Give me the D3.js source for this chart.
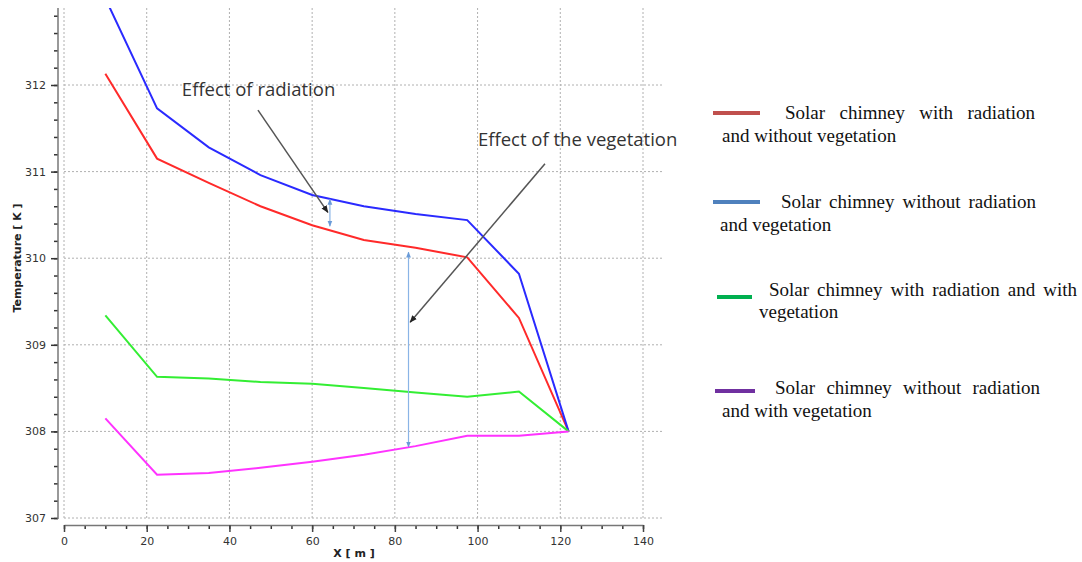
<!DOCTYPE html>
<html>
<head>
<meta charset="utf-8">
<script src="https://cdn.jsdelivr.net/npm/d3@7"></script>
<style>
body { margin: 0; background: #fff; }
svg { display: block; }
.tick text { font-family: "DejaVu Sans", sans-serif; font-size: 11px; fill: #333; }
</style>
</head>
<body>
<svg width="1082" height="562"></svg>
<script>
var xPos = [10, 22.5, 35, 47.5, 60, 72.5, 85, 97.5, 110, 122];
var redVals = [312.13, 311.15, 310.87, 310.6, 310.38, 310.21, 310.12, 310.01, 309.31, 308.0];
var blueVals = [313.0, 311.73, 311.28, 310.96, 310.73, 310.6, 310.51, 310.44, 309.82, 308.0];
var greenVals = [309.34, 308.63, 308.61, 308.57, 308.55, 308.5, 308.45, 308.4, 308.46, 308.0];
var pinkVals = [308.15, 307.5, 307.52, 307.58, 307.65, 307.73, 307.83, 307.95, 307.95, 308.0];
var xTicks = [0, 20, 40, 60, 80, 100, 120, 140];
var yTicks = [307, 308, 309, 310, 311, 312];
var legendItems = [
	{ color: "#c0504d", first: "Solar chimney with radiation", second: "and without vegetation" },
	{ color: "#4f81bd", first: "Solar chimney without radiation", second: "and vegetation" },
	{ color: "#00b050", first: "Solar chimney with radiation and with", second: "vegetation" },
	{ color: "#7030a0", first: "Solar chimney without radiation", second: "and with vegetation" }
];

var svg = d3.select("svg");
var x = d3.scaleLinear().domain([0, 140]).range([64, 643]);
var y = d3.scaleLinear().domain([307, 312]).range([518, 85]);

var defs = svg.append("defs");
defs.append("clipPath").attr("id", "plot")
	.append("rect").attr("x", 58).attr("y", 8).attr("width", 620).attr("height", 515);
function marker(id, color, size) {
	defs.append("marker").attr("id", id)
		.attr("viewBox", "0 0 10 10").attr("refX", 9).attr("refY", 5)
		.attr("markerWidth", size).attr("markerHeight", size)
		.attr("orient", "auto-start-reverse")
		.append("path").attr("d", "M0,1 L10,5 L0,9 z").attr("fill", color);
}
marker("arrGray", "#222", 5);
marker("arrBlue", "#6a9bd8", 5);

// grid
var grid = svg.append("g").attr("stroke", "#b0b0b0").attr("stroke-dasharray", "2,2").attr("stroke-width", 1);
grid.selectAll(".h").data(yTicks).enter().append("line")
	.attr("x1", 64).attr("x2", 663)
	.attr("y1", function(d) { return y(d); }).attr("y2", function(d) { return y(d); });
grid.selectAll(".v").data(xTicks).enter().append("line")
	.attr("y1", 8).attr("y2", 518)
	.attr("x1", function(d) { return x(d); }).attr("x2", function(d) { return x(d); });

// axes
var xMinor = d3.range(0, 141, 5);
svg.append("g").attr("transform", "translate(0,525)")
	.call(d3.axisBottom(x).tickValues(xMinor).tickSize(4).tickFormat(""))
	.call(function(g) { g.select(".domain").remove(); g.selectAll("line").attr("stroke", "#333").attr("stroke-width", 1.5); });
svg.append("g").attr("transform", "translate(0,525)")
	.call(d3.axisBottom(x).tickValues(xTicks).tickSize(7).tickPadding(5).tickSizeOuter(0))
	.call(function(g) { g.select(".domain").attr("stroke", "#777").attr("stroke-width", 1.5); g.selectAll("line").attr("stroke", "#444").attr("stroke-width", 1.5); });

var yMinor = d3.range(307, 312.81, 0.2);
svg.append("g").attr("transform", "translate(58,0)")
	.call(d3.axisLeft(y).tickValues(yMinor).tickSize(4).tickFormat(""))
	.call(function(g) { g.select(".domain").remove(); g.selectAll("line").attr("stroke", "#333").attr("stroke-width", 1.5); });
svg.append("g").attr("transform", "translate(58,0)")
	.call(d3.axisLeft(y).tickValues(yTicks).tickSize(7).tickPadding(5).tickSizeOuter(0).tickFormat(d3.format("d")))
	.call(function(g) { g.select(".domain").remove(); g.selectAll("line").attr("stroke", "#333").attr("stroke-width", 1.5); });
svg.append("line").attr("x1", 58).attr("x2", 58).attr("y1", 8).attr("y2", 519)
	.attr("stroke", "#777").attr("stroke-width", 1.5);

svg.append("text").attr("transform", "translate(21,258) rotate(-90)")
	.attr("text-anchor", "middle").attr("font-family", "DejaVu Sans, sans-serif")
	.attr("font-size", 11).attr("font-weight", "bold").attr("fill", "#222")
	.text("Temperature [ K ]");
svg.append("text").attr("x", 354).attr("y", 557)
	.attr("text-anchor", "middle").attr("font-family", "DejaVu Sans, sans-serif")
	.attr("font-size", 11).attr("font-weight", "bold").attr("fill", "#222")
	.text("X [ m ]");

// series
var series = [
	{ vals: redVals, color: "#ff2a2a" },
	{ vals: blueVals, color: "#2a2aff" },
	{ vals: greenVals, color: "#33ee33" },
	{ vals: pinkVals, color: "#ff33ff" }
];
var line = d3.line()
	.x(function(d, i) { return x(xPos[i]); })
	.y(function(d) { return y(d); });
svg.append("g").attr("clip-path", "url(#plot)")
	.selectAll("path").data(series).enter().append("path")
	.attr("d", function(d) { return line(d.vals); })
	.attr("fill", "none").attr("stroke", function(d) { return d.color; })
	.attr("stroke-width", 2);

// annotations
var ann = svg.append("g");
ann.append("line")
	.attr("x1", x(46.9)).attr("y1", y(311.71)).attr("x2", x(63.8)).attr("y2", y(310.53))
	.attr("stroke", "#555").attr("stroke-width", 1.5).attr("marker-end", "url(#arrGray)");
ann.append("line")
	.attr("x1", x(64.3)).attr("y1", y(310.68)).attr("x2", x(64.3)).attr("y2", y(310.37))
	.attr("stroke", "#8ab4e6").attr("stroke-width", 1.2)
	.attr("marker-start", "url(#arrBlue)").attr("marker-end", "url(#arrBlue)");
ann.append("line")
	.attr("x1", x(116.3)).attr("y1", y(311.09)).attr("x2", x(83.7)).attr("y2", y(309.26))
	.attr("stroke", "#555").attr("stroke-width", 1.5).attr("marker-end", "url(#arrGray)");
ann.append("line")
	.attr("x1", x(83.3)).attr("y1", y(310.07)).attr("x2", x(83.3)).attr("y2", y(307.82))
	.attr("stroke", "#8ab4e6").attr("stroke-width", 1.2)
	.attr("marker-start", "url(#arrBlue)").attr("marker-end", "url(#arrBlue)");
ann.append("text").attr("x", x(28.5)).attr("y", y(311.87))
	.attr("font-family", "Open Sans, sans-serif").attr("font-size", 18.5).attr("fill", "#333")
	.text("Effect of radiation");
ann.append("text").attr("x", x(100.1)).attr("y", y(311.3))
	.attr("font-family", "Open Sans, sans-serif").attr("font-size", 18.5).attr("fill", "#333")
	.text("Effect of the vegetation");

// legend
var legendPos = [
	{ lx1: 713, lx2: 760, ly: 113, tx1: 785, tx2: 1035, ty: 119, sx: 722, sy: 142 },
	{ lx1: 713, lx2: 760, ly: 202, tx1: 781, tx2: 1036, ty: 208, sx: 720, sy: 231 },
	{ lx1: 717, lx2: 752, ly: 297, tx1: 769, tx2: 1077, ty: 296, sx: 759, sy: 318 },
	{ lx1: 715, lx2: 755, ly: 391, tx1: 775, tx2: 1040, ty: 394, sx: 722, sy: 417 }
];
var leg = svg.append("g").attr("font-family", "Liberation Serif, serif").attr("font-size", 19).attr("fill", "#111");
legendItems.forEach(function(item, i) {
	var p = legendPos[i];
	leg.append("line").attr("x1", p.lx1).attr("x2", p.lx2).attr("y1", p.ly).attr("y2", p.ly)
		.attr("stroke", item.color).attr("stroke-width", 4);
	var words = item.first.split(" ");
	var nodes = words.map(function(w) { return leg.append("text").attr("y", p.ty).text(w); });
	var widths = nodes.map(function(n) { return n.node().getComputedTextLength(); });
	var gap = (p.tx2 - p.tx1 - d3.sum(widths)) / (words.length - 1);
	var cx = p.tx1;
	nodes.forEach(function(n, j) { n.attr("x", cx); cx += widths[j] + gap; });
	leg.append("text").attr("x", p.sx).attr("y", p.sy).text(item.second);
});
</script>
</body>
</html>
